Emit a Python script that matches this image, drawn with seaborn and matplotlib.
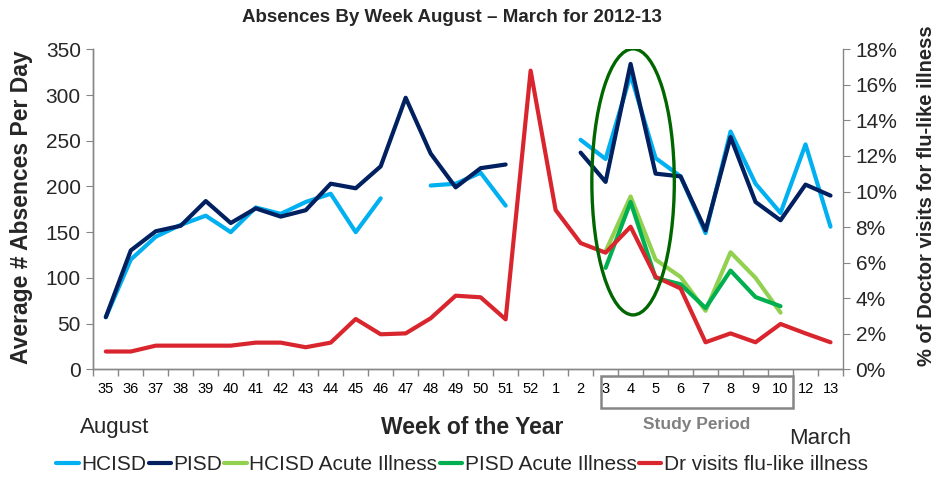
import numpy as np
import pandas as pd
import matplotlib
matplotlib.use("Agg")
import matplotlib.pyplot as plt
from matplotlib.patches import Ellipse, Rectangle
from matplotlib.lines import Line2D
import matplotlib.transforms as mtransforms
import seaborn as sns

nan = np.nan

# ---- data ----
weeks = ["35", "36", "37", "38", "39", "40", "41", "42", "43", "44", "45", "46",
         "47", "48", "49", "50", "51", "52", "1", "2", "3", "4", "5", "6", "7",
         "8", "9", "10", "12", "13"]

hcisd = [57, 120, 145, 158, 168, 150, 177, 170, 183, 192, 150, 187,
         nan, 201, 203, 215, 179, nan, nan, 251, 230, 322, 231, 211, 149,
         260, 203, 171, 246, 156]

pisd = [57, 130, 151, 157, 184, 160, 176, 167, 174, 203, 198, 222,
        297, 236, 199, 220, 224, nan, nan, 237, 205, 334, 214, 211, 152,
        254, 183, 163, 202, 190]

hcisd_acute = [nan] * 20 + [129, 189, 120, 101, 64, 128, 100, 62, nan, nan]
pisd_acute = [nan] * 20 + [111, 183, 100, 93, 67, 108, 79, 69, nan, nan]

dr_visits = [1.0, 1.0, 1.33, 1.33, 1.33, 1.33, 1.5, 1.5, 1.24, 1.5, 2.83, 1.97,
             2.02, 2.87, 4.14, 4.05, 2.81, 16.8, 8.96, 7.1, 6.56, 8.02, 5.2, 4.55,
             1.52, 2.02, 1.52, 2.55, 2.02, 1.52]

series_names = ["HCISD", "PISD", "HCISD Acute Illness", "PISD Acute Illness",
                "Dr visits flu-like illness"]
colors = ["#00B0F0", "#002060", "#92D050", "#00B050", "#D9262E"]


def long_form(name, values):
    # one row per point, 'seg' splits the line where values are missing
    vals = pd.Series(values, dtype=float)
    seg = vals.isna().cumsum()
    d = pd.DataFrame({"x": range(len(vals)), "y": vals, "series": name, "seg": seg})
    return d.dropna()


left_df = pd.concat([
    long_form(series_names[0], hcisd),
    long_form(series_names[1], pisd),
    long_form(series_names[2], hcisd_acute),
    long_form(series_names[3], pisd_acute),
])
right_df = long_form(series_names[4], dr_visits)

sns.set_style("white")
plt.rcParams["font.family"] = ["Liberation Sans", "DejaVu Sans"]

fig = plt.figure(figsize=(9.42, 4.83), dpi=100)
ax = fig.add_axes([93.3 / 942, 1 - 369.3 / 483, (843 - 93.3) / 942, 320 / 483])
ax2 = ax.twinx()

sns.lineplot(data=left_df, x="x", y="y", hue="series", units="seg", estimator=None,
             palette=dict(zip(series_names[:4], colors[:4])), lw=3, legend=False,
             ax=ax)
sns.lineplot(data=right_df, x="x", y="y", color=colors[4], lw=3, ax=ax2)

grey = "#868686"
ax.set_xlim(-0.5, len(weeks) - 0.5)
ax.set_ylim(0, 350)
ax.set_yticks(range(0, 351, 50))
ax2.set_ylim(0, 18)
ax2.set_yticks(range(0, 19, 2))
ax2.set_yticklabels([f"{v}%" for v in range(0, 19, 2)])

ax.set_xticks(range(len(weeks)))
ax.set_xticklabels(weeks)
ax.set_xticks(np.arange(-0.5, len(weeks), 1), minor=True)
ax.tick_params(axis="x", which="major", length=0, labelsize=10.5, pad=9, colors="black")
ax.tick_params(axis="x", which="minor", length=5, color=grey, width=1, bottom=True)
ax.tick_params(axis="y", length=5, color=grey, labelsize=15, left=True, pad=4)
ax2.tick_params(axis="y", length=5, color=grey, labelsize=15, right=True, pad=4)

for a in (ax, ax2):
    a.set_xlabel("")
    a.set_ylabel("")
    a.spines["top"].set_visible(False)
    for s in ("left", "right", "bottom"):
        a.spines[s].set_color(grey)
        a.spines[s].set_linewidth(1)
ax.spines["right"].set_visible(False)

# green ellipse around the week 4 peak
ell = Ellipse((21.1, 205), width=3.3, height=291, transform=ax.transData,
              fill=False, edgecolor="#006600", lw=2.4, zorder=10)
ax2.add_patch(ell)

# study period box under the week labels
trans = mtransforms.blended_transform_factory(ax.transData, ax.transAxes)
box = Rectangle((19.8, -0.121), 7.7, 0.1, transform=trans, fill=False,
                edgecolor=grey, lw=1.8, clip_on=False)
ax.add_patch(box)

fig.text(452 / 942, 1 - 18 / 483, "Absences By Week August \u2013 March for 2012-13",
         ha="center", va="center", fontsize=13.5, fontweight="bold")
fig.text(22 / 942, 1 - 207 / 483, "Average # Absences Per Day", rotation=90,
         ha="center", va="center", fontsize=16.5, fontweight="bold")
fig.text(926 / 942, 1 - 196 / 483, "% of Doctor visits for flu-like illness",
         rotation=90, ha="center", va="center", fontsize=14.5, fontweight="bold")
fig.text(472 / 942, 1 - 427 / 483, "Week of the Year", ha="center", va="center",
         fontsize=16.5, fontweight="bold")
fig.text(115 / 942, 1 - 428 / 483, "August", ha="center", va="center", fontsize=16)
fig.text(820 / 942, 1 - 438 / 483, "March", ha="center", va="center", fontsize=16)
fig.text(697 / 942, 1 - 424 / 483, "Study Period", ha="center", va="center",
         fontsize=12.5, fontweight="bold", color="#808080")

handles = [Line2D([], [], color=c, lw=3) for c in colors]
fig.legend(handles, series_names, loc="center", bbox_to_anchor=(462 / 942, 1 - 465 / 483),
           ncol=5, frameon=False, fontsize=15, handlelength=1.1, handletextpad=0.1,
           columnspacing=0.1)

fig.savefig("out.png", dpi=100)
